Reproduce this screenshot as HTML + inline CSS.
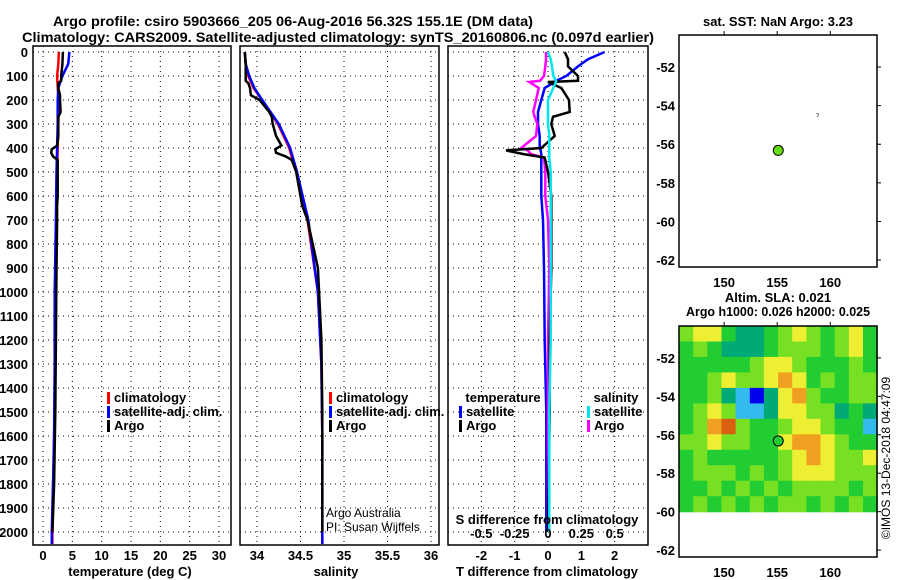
<!DOCTYPE html>
<html><head><meta charset="utf-8"><style>
html,body{margin:0;padding:0;background:#fff;}
svg{display:block;font-family:"Liberation Sans",Arial,sans-serif;}
.b{font-weight:bold;font-size:14px;}
.t{font-weight:bold;font-size:13px;}
</style></head><body>
<svg id="chart" width="900" height="580" xmlns="http://www.w3.org/2000/svg">
<g id="titles">
<text x="293" y="26" text-anchor="middle" class="b" textLength="480" lengthAdjust="spacingAndGlyphs">Argo profile: csiro 5903666_205 06-Aug-2016 56.32S 155.1E (DM data)</text>
<text x="338" y="42" text-anchor="middle" class="b" textLength="632" lengthAdjust="spacingAndGlyphs">Climatology: CARS2009. Satellite-adjusted climatology: synTS_20160806.nc (0.097d earlier)</text>
<text x="778" y="26" text-anchor="middle" class="t" textLength="150" lengthAdjust="spacingAndGlyphs">sat. SST: NaN Argo: 3.23</text>
<text x="778" y="302" text-anchor="middle" class="t">Altim. SLA: 0.021</text>
<text x="778" y="316" text-anchor="middle" class="t" textLength="184" lengthAdjust="spacingAndGlyphs">Argo h1000: 0.026 h2000: 0.025</text>
<text transform="translate(890,458) rotate(-90)" text-anchor="middle" font-size="12">©IMOS 13-Dec-2018 04:47:09</text>
</g>
</svg>
<script>
// ---------- data ----------
const depthTicks = [0,100,200,300,400,500,600,700,800,900,1000,1100,1200,1300,1400,1500,1600,1700,1800,1900,2000];
const tempTicks = [0,5,10,15,20,25,30];
const salTicks = [34,34.5,35,35.5,36];
const tdiffTicks = [-2,-1,0,1,2];
const sdiffTicks = [-0.5,-0.25,0,0.25,0.5];
const sdiffLabels = ["-0.5","-0.25","0","0.25","0.5"];
const lonTicks = [150,155,160];
const latTicks = [-52,-54,-56,-58,-60,-62];

const climDepth = [0,50,100,150,200,300,400,500,700,1000,1300,1600,1800,2000,2050];
const tempClim  = [2.7,2.6,2.4,2.5,2.7,2.6,2.5,2.4,2.3,2.2,2.1,1.9,1.8,1.6,1.6];
const tempSat   = [4.5,4.3,3.3,2.6,2.5,2.5,2.4,2.3,2.2,2.0,2.0,1.9,1.7,1.5,1.5];
const salClim   = [33.86,33.87,33.90,33.96,34.06,34.24,34.37,34.45,34.58,34.70,34.74,34.75,34.75,34.75,34.75];
const salSat    = [33.86,33.87,33.91,33.97,34.06,34.25,34.38,34.46,34.59,34.70,34.74,34.75,34.75,34.75,34.75];

const argoDepth = [0,50,100,120,130,150,180,200,250,270,300,350,390,405,420,435,450,500,600,640,700,900,1200,1500,1800,2000];
const tempArgo  = [3.4,3.3,3.1,3.1,2.6,2.6,2.9,2.9,3.0,2.6,2.6,2.6,2.4,1.5,1.4,1.7,2.5,2.5,2.5,2.4,2.4,2.3,2.2,2.1,1.9,1.6];
const salArgo   = [33.86,33.87,33.87,33.87,33.90,33.92,33.93,34.03,34.14,34.17,34.18,34.22,34.28,34.21,34.22,34.33,34.40,34.45,34.50,34.52,34.58,34.70,34.74,34.75,34.75,34.75];

const diffDepth = [0,30,60,100,120,125,150,200,250,270,300,350,400,410,425,440,500,600,700,900,1200,1500,2000];
const tdiffArgo = [0.5,0.6,0.6,0.9,0.9,0.0,0.4,0.63,0.65,0.15,0.1,0.2,-0.2,-1.26,-0.75,-0.1,0.0,0.1,0.1,0.1,0.05,0.05,0.0];
const tdiffSat  = [1.7,1.2,0.9,0.55,0.25,0.2,-0.1,-0.2,-0.3,-0.3,-0.3,-0.25,-0.25,-0.22,-0.2,-0.2,-0.2,-0.2,-0.15,-0.12,-0.1,-0.05,-0.05];
const sdiffArgo = [-0.015,-0.015,-0.02,-0.03,-0.06,-0.14,-0.07,-0.09,-0.11,-0.1,-0.08,-0.09,-0.2,-0.15,-0.13,-0.03,-0.02,-0.02,0.0,0.01,0.0,0.0,0.0];
const sdiffSat  = [0.0,0.02,0.03,0.04,0.06,0.06,0.04,0.0,0.0,0.0,0.0,0.01,0.01,0.01,0.01,0.01,0.02,0.02,0.02,0.02,0.02,0.01,0.01];

const floatLon = 155.1, floatLat = -56.32;
const markLon = 158.8, markLat = -54.7;
// SLA heatmap (colour class 0=blue .. 7=dark orange), rows north->south
const slaLonStart = 145.75, slaLonStep = 1.333;
const slaLatStart = -50.34, slaLatStep = 0.805;
const slaGrid = [
 [4,5,5,3,2,2,3,4,5,4,3,4,5,3],
 [3,4,3,2,2,2,3,4,4,4,3,4,5,3],
 [3,3,3,3,3,4,5,5,4,3,3,3,4,3],
 [3,3,4,5,4,4,5,6,5,3,4,3,4,4],
 [3,3,4,2,1,0,2,5,6,4,3,3,4,4],
 [3,4,5,4,1,1,2,5,5,4,4,2,3,2],
 [3,4,6,7,4,3,3,4,5,5,4,3,3,1],
 [4,4,5,4,4,3,3,5,6,6,5,4,3,3],
 [3,4,3,3,3,3,3,4,5,6,5,4,4,5],
 [3,4,4,4,3,4,3,4,5,5,5,4,4,4],
 [3,3,4,3,4,3,4,3,4,4,4,4,3,4],
 [3,4,3,4,3,4,3,4,4,3,4,3,4,3]
];
const slaColors = ["#0000ee","#33bbee","#00aa77","#22cc33","#77e022","#eeee33","#f0a020","#d86010"];

// ---------- helpers ----------
const NS="http://www.w3.org/2000/svg";
const svg=document.getElementById('chart');
function mk(tag,attrs,parent){const e=document.createElementNS(NS,tag);for(const k in attrs)e.setAttribute(k,attrs[k]);(parent||svg).appendChild(e);return e;}
function lin(d0,d1,r0,r1){return v=>r0+(v-d0)*(r1-r0)/(d1-d0);}
const Y0=52, YB=545;
const yD = lin(0,2000,52,532);

function panel(name,x0,x1,xs,ticks,labels,showY){
  const g=mk('g',{});
  
  
  ticks.forEach(t=>{const l=mk('line',{x1:xs(t),x2:xs(t),y1:Y0-6,y2:YB,stroke:'#000','stroke-width':1,'stroke-dasharray':'1,4'},g);
    });
  depthTicks.forEach(d=>{const l=mk('line',{x1:x0,x2:x1,y1:yD(d),y2:yD(d),stroke:'#000','stroke-width':1,'stroke-dasharray':'1,4'},g);
    });
  const r=mk('rect',{x:x0,y:Y0-6,width:x1-x0,height:YB-Y0+6,fill:'none',stroke:'#000','stroke-width':1.5},g);
  
  ticks.forEach((t,i)=>{const tx=mk('text',{x:xs(t),y:560,'text-anchor':'middle',class:'t'},g);tx.textContent=labels[i];
    });
  if(showY){depthTicks.forEach(d=>{const tx=mk('text',{x:28,y:yD(d)+5,'text-anchor':'end',class:'t'},g);tx.textContent=d;
    });}
  return g;
}
function line(g,name,xs,vals,depths,color){
  const pts=vals.map((v,i)=>xs(v).toFixed(1)+','+yD(Math.min(depths[i],2054)).toFixed(1)).join(' ');
  const p=mk('polyline',{points:pts,fill:'none',stroke:color,'stroke-width':2.5},g);
  
  
}
function legend(g,x,y,items){
  items.forEach((it,i)=>{
    const r=mk('rect',{x:x,y:y+i*14-10,width:3,height:12,fill:it[1]},g);
    
    const t=mk('text',{x:x+7,y:y+i*14,class:'t'},g);t.textContent=it[0];
    
  });
}
function label(g,x,y,txt,name,extra){const t=mk('text',Object.assign({x:x,y:y,'text-anchor':'middle',class:'t'},extra||{}),g);t.textContent=txt;
  return t;}

// ---------- temperature panel ----------
const xT=lin(0,30,43,219);
const gT=panel('temperature-panel',33,231,xT,tempTicks,tempTicks.map(String),true);
line(gT,'temp-climatology-line',xT,tempClim,climDepth,'#ff0000');
line(gT,'temp-satellite-line',xT,tempSat,climDepth,'#0000ff');
line(gT,'temp-argo-line',xT,tempArgo,argoDepth,'#000000');
legend(gT,107,402,[['climatology','#ff0000'],['satellite-adj. clim.','#0000ff'],['Argo','#000']]);
label(gT,130,576,'temperature (deg C)','x-axis-title');

// ---------- salinity panel ----------
const xS=lin(34,36,257,431);
const gS=panel('salinity-panel',240,439,xS,salTicks,salTicks.map(String),false);
line(gS,'sal-climatology-line',xS,salClim,climDepth,'#ff0000');
line(gS,'sal-satellite-line',xS,salSat,climDepth,'#0000ff');
line(gS,'sal-argo-line',xS,salArgo,argoDepth,'#000000');
legend(gS,329,402,[['climatology','#ff0000'],['satellite-adj. clim.','#0000ff'],['Argo','#000']]);
label(gS,336,576,'salinity','x-axis-title');
const a1=mk('text',{x:326,y:517,'font-size':12},gS);a1.textContent='Argo Australia';

const a2=mk('text',{x:326,y:531,'font-size':12},gS);a2.textContent='PI: Susan Wijffels';


// ---------- difference panel ----------
const xTd=lin(-3,3,448,648);
const xSd=lin(-0.75,0.75,448,648);
const gD=panel('difference-panel',448,648,xTd,tdiffTicks,tdiffTicks.map(String),false);
line(gD,'tdiff-satellite-line',xTd,tdiffSat,diffDepth,'#0000ff');
line(gD,'sdiff-argo-line',xSd,sdiffArgo,diffDepth,'#ff00ff');
line(gD,'tdiff-argo-line',xTd,tdiffArgo,diffDepth,'#000000');
line(gD,'sdiff-satellite-line',xSd,sdiffSat,diffDepth,'#00e5ee');
label(gD,503,402,'temperature','legend-title');
legend(gD,459,416,[['satellite','#0000ff'],['Argo','#000']]);
label(gD,616,402,'salinity','legend-title');
legend(gD,587,416,[['satellite','#00e5ee'],['Argo','#ff00ff']]);
label(gD,547,524,'S difference from climatology','s-axis-title');
sdiffTicks.forEach((t,i)=>label(gD,xSd(t),538,sdiffLabels[i],'s-tick-label'));
label(gD,547,576,'T difference from climatology','x-axis-title');

// ---------- maps ----------
function mapFrame(name,y0,y1){
  const g=mk('g',{});
  
  
  const xs=lin(145.75,164.4,679,877), ys=lin(-50.34,-62.36,y0,y1);
  return {g,xs,ys,y0,y1};
}
function mapAxes(m){
  const {g,xs,ys,y0,y1}=m;
  const r=mk('rect',{x:679,y:y0,width:198,height:y1-y0,fill:'none',stroke:'#000','stroke-width':1.5},g);
  
  lonTicks.forEach(t=>{mk('line',{x1:xs(t),x2:xs(t),y1:y0-4,y2:y0,stroke:'#000'},g);
    label(g,xs(t),y1+20,String(t),'lon-tick-label');});
  latTicks.forEach(t=>{mk('line',{x1:877,x2:881,y1:ys(t),y2:ys(t),stroke:'#000'},g);
    const tx=mk('text',{x:675,y:ys(t)+5,'text-anchor':'end',class:'t'},g);tx.textContent=String(t);
    });
}
const m1=mapFrame('sst-map',35,267);
mapAxes(m1);
const dot1=mk('circle',{cx:m1.xs(floatLon),cy:m1.ys(floatLat),r:5,fill:'#66dd11',stroke:'#000','stroke-width':1},m1.g);

const mk1=mk('text',{x:m1.xs(markLon),y:m1.ys(markLat),'font-size':8,'text-anchor':'middle'},m1.g);mk1.textContent='ˀ';


const m2=mapFrame('sla-map',326,557);
slaGrid.forEach((row,ri)=>row.forEach((v,ci)=>{
  const lon0=slaLonStart+ci*slaLonStep, lat0=slaLatStart-ri*slaLatStep;
  const x=m2.xs(lon0), y=m2.ys(lat0);
  const w=m2.xs(lon0+slaLonStep)-x, h=m2.ys(lat0-slaLatStep)-y;
  const c=mk('rect',{x:x.toFixed(1),y:y.toFixed(1),width:(w+0.6).toFixed(1),height:(h+0.6).toFixed(1),fill:slaColors[v]},m2.g);
  
  
}));
mapAxes(m2);
const dot2=mk('circle',{cx:m2.xs(floatLon),cy:m2.ys(floatLat),r:5,fill:'#22cc33',stroke:'#000','stroke-width':1},m2.g);

</script>
</body></html>
